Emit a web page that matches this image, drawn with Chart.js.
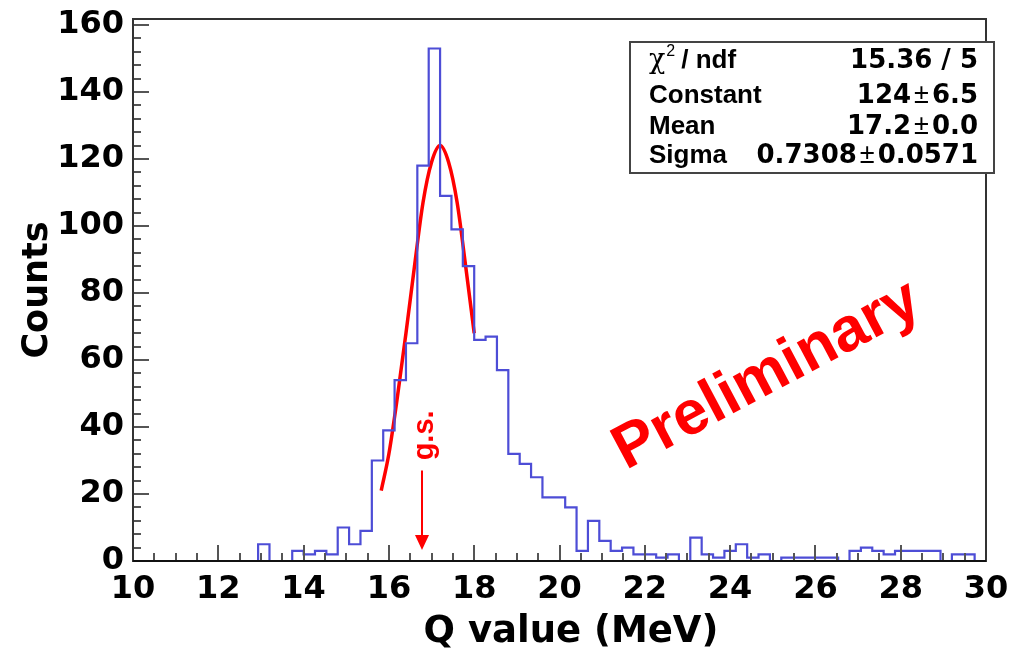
<!DOCTYPE html>
<html>
<head>
<meta charset="utf-8">
<script src="https://cdn.jsdelivr.net/npm/chart.js@4.4.1/dist/chart.umd.min.js"></script>
<style>
  html, body { margin: 0; padding: 0; background: #fff; }
  #wrap { width: 1014px; height: 652px; }
</style>
</head>
<body>
<div id="wrap"><canvas id="grafico"></canvas></div>
<script>
// histograma: 75 bins entre 10 e 30 MeV
const binLow = 10;
const binHigh = 30;
const yMax = 161.8;
const contagens = [
  0, 0, 0, 0, 0, 0, 0, 0, 0, 0, 0, 5, 0, 0, 3,
  2, 3, 2, 10, 5, 9, 30, 39, 54, 65, 118, 153, 109, 99, 88,
  66, 67, 57, 32, 29, 25, 19, 19, 16, 3, 12, 6, 3, 4, 2,
  2, 1, 2, 0, 7, 2, 1, 3, 5, 1, 2, 0, 1, 1, 1,
  1, 1, 0, 3, 4, 3, 2, 3, 3, 3, 3, 0, 2, 2, 0
];

// curva do ajuste
const fitQ = [15.82, 16.0, 16.2, 16.4, 16.6, 16.8, 17.0, 17.2, 17.4, 17.6, 17.8, 18.0];
const fitY = [21, 32, 49, 68, 88, 107, 119, 124, 119, 107, 88, 68];

const xTicks = [10, 12, 14, 16, 18, 20, 22, 24, 26, 28, 30];
const yTicks = [0, 20, 40, 60, 80, 100, 120, 140, 160];

const statsLabels = ['/ ndf', 'Constant', 'Mean', 'Sigma'];
const statsValues = [['15.36 / 5'], ['124', '6.5'], ['17.2', '0.0'], ['0.7308', '0.0571']];

const gsQ = 16.78;

const larguraBin = (binHigh - binLow) / contagens.length;
const pontosHist = contagens.map((c, i) => ({x: binLow + i * larguraBin, y: c}));
pontosHist.push({x: binHigh, y: contagens[contagens.length - 1]});
const pontosFit = fitQ.map((q, i) => ({x: q, y: fitY[i]}));

// moldura, ticks internos e anotações no estilo ROOT
const decoracao = {
    id: 'decoracao',
    afterDatasetsDraw(chart) {
        const ctx = chart.ctx;
        const a = chart.chartArea;
        const sx = chart.scales.x;
        const sy = chart.scales.y;
        ctx.save();

        // ticks
        ctx.strokeStyle = '#555';
        ctx.lineWidth = 2;
        ctx.beginPath();
        for (let q = 10; q <= 30.001; q += 0.5) {
            const px = Math.round(sx.getPixelForValue(q));
            const len = (Math.abs(q / 2 - Math.round(q / 2)) < 1e-6) ? 16 : 8;
            ctx.moveTo(px, a.bottom);
            ctx.lineTo(px, a.bottom - len);
        }
        for (let v = 0; v <= 160; v += 4) {
            const py = Math.round(sy.getPixelForValue(v));
            const len = (v % 20 === 0) ? 16 : 8;
            ctx.moveTo(a.left, py);
            ctx.lineTo(a.left + len, py);
        }
        ctx.stroke();

        // moldura
        ctx.strokeStyle = '#333';
        ctx.lineWidth = 2;
        ctx.strokeRect(a.left, a.top, a.right - a.left, a.bottom - a.top);
        ctx.strokeStyle = '#111';
        ctx.beginPath();
        ctx.moveTo(a.left, a.bottom);
        ctx.lineTo(a.right, a.bottom);
        ctx.stroke();

        // títulos dos eixos
        ctx.fillStyle = '#000';
        ctx.font = 'bold 37px "DejaVu Sans"';
        ctx.textAlign = 'center';
        ctx.textBaseline = 'middle';
        ctx.fillText('Q value (MeV)', 571, 632);
        ctx.save();
        ctx.translate(38, 290);
        ctx.rotate(-Math.PI / 2);
        ctx.font = 'bold 35px "DejaVu Sans"';
        ctx.fillText('Counts', 0, 0);
        ctx.restore();

        // caixa de estatísticas
        const bx = 630, by = 42, bw = 364, bh = 131;
        ctx.fillStyle = '#fff';
        ctx.fillRect(bx, by, bw, bh);
        ctx.strokeStyle = '#444';
        ctx.lineWidth = 2;
        ctx.strokeRect(bx, by, bw, bh);

        const linhas = [68, 103, 134, 163];
        const fb = 'bold 26px "Liberation Sans"';
        const fv = 'bold 26px "DejaVu Sans"';
        const fn = '27px "Liberation Sans"';
        ctx.fillStyle = '#000';
        ctx.textBaseline = 'alphabetic';
        ctx.textAlign = 'left';
        for (let i = 0; i < statsLabels.length; i++) {
            let x = 649;
            if (i === 0) {
                ctx.font = '27px "DejaVu Serif"';
                ctx.fillText('\u03c7', x, linhas[i]);
                x += ctx.measureText('\u03c7').width + 1;
                ctx.font = '16px "Liberation Sans"';
                ctx.fillText('2', x, linhas[i] - 12);
                x += ctx.measureText('2').width + 6;
            }
            ctx.font = fb;
            ctx.fillText(statsLabels[i], x, linhas[i]);
        }
        ctx.textAlign = 'right';
        for (let i = 0; i < statsValues.length; i++) {
            const partes = statsValues[i];
            let x = 978;
            ctx.font = fv;
            if (partes.length === 1) {
                ctx.fillText(partes[0], x, linhas[i]);
            } else {
                ctx.fillText(partes[1], x, linhas[i]);
                x -= ctx.measureText(partes[1]).width + 3;
                ctx.font = fn;
                ctx.fillText('\u00b1', x, linhas[i]);
                x -= ctx.measureText('\u00b1').width + 3;
                ctx.font = fv;
                ctx.fillText(partes[0], x, linhas[i]);
            }
        }

        // seta g.s.
        const gx = Math.round(sx.getPixelForValue(gsQ));
        const yTopo = sy.getPixelForValue(27);
        const yPonta = sy.getPixelForValue(3.3);
        ctx.strokeStyle = '#f00';
        ctx.fillStyle = '#f00';
        ctx.lineWidth = 2;
        ctx.beginPath();
        ctx.moveTo(gx, yTopo);
        ctx.lineTo(gx, yPonta - 10);
        ctx.stroke();
        ctx.beginPath();
        ctx.moveTo(gx, yPonta);
        ctx.lineTo(gx - 7, yPonta - 15);
        ctx.lineTo(gx + 7, yPonta - 15);
        ctx.closePath();
        ctx.fill();

        ctx.save();
        ctx.translate(gx + 11, sy.getPixelForValue(37.5));
        ctx.rotate(-Math.PI / 2);
        ctx.font = 'bold 29px "Liberation Sans"';
        ctx.textAlign = 'center';
        ctx.textBaseline = 'alphabetic';
        ctx.fillText('g.s.', 0, 0);
        ctx.restore();

        // Preliminary
        ctx.save();
        ctx.translate(767, 376);
        ctx.rotate(-28 * Math.PI / 180);
        ctx.font = 'bold 62px "Liberation Sans"';
        ctx.textAlign = 'center';
        ctx.textBaseline = 'middle';
        ctx.fillStyle = '#f00';
        ctx.fillText('Preliminary', 0, 0);
        ctx.restore();

        ctx.restore();
    }
};

const ctxGrafico = document.getElementById('grafico').getContext('2d');
const grafico = new Chart(ctxGrafico, {
    type: 'line',
    data: {
        datasets: [{
            label: 'Hist',
            data: pontosHist,
            stepped: 'before',
            borderColor: '#4d4dd6',
            borderWidth: 2.2,
            pointRadius: 0,
            fill: false
        }, {
            label: 'Fit',
            data: pontosFit,
            borderColor: '#ff0000',
            borderWidth: 3.5,
            pointRadius: 0,
            cubicInterpolationMode: 'monotone',
            fill: false
        }]
    },
    options: {
        responsive: true,
        maintainAspectRatio: false,
        animation: false,
        layout: {padding: {left: 0, right: 28, top: 19, bottom: 0}},
        plugins: {legend: {display: false}, tooltip: {enabled: false}},
        scales: {
            x: {
                type: 'linear',
                min: binLow,
                max: binHigh,
                grid: {display: false, drawTicks: false},
                border: {display: false},
                afterBuildTicks: s => { s.ticks = xTicks.map(v => ({value: v})); },
                afterFit: s => { s.height = 91; s.paddingLeft = 0; s.paddingRight = 0; },
                ticks: {
                    color: '#000',
                    font: {family: 'DejaVu Sans', size: 32, weight: 'bold'},
                    padding: 9,
                    maxRotation: 0,
                    autoSkip: false
                }
            },
            y: {
                min: 0,
                max: yMax,
                grid: {display: false, drawTicks: false},
                border: {display: false},
                afterBuildTicks: s => { s.ticks = yTicks.map(v => ({value: v})); },
                afterFit: s => { s.width = 133; s.paddingTop = 0; s.paddingBottom = 0; },
                ticks: {
                    color: '#000',
                    font: {family: 'DejaVu Sans', size: 32, weight: 'bold'},
                    padding: 9,
                    autoSkip: false
                }
            }
        }
    },
    plugins: [decoracao]
});
</script>
</body>
</html>
